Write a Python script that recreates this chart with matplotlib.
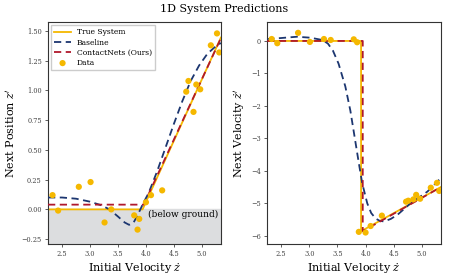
#!/usr/bin/env python3
# 1D system predictions: next position / next velocity vs initial velocity

import matplotlib
matplotlib.use("Agg")
import matplotlib.pyplot as plt

# data points (shared initial velocities)
data_v = [2.33, 2.43, 2.80, 3.01, 3.26, 3.38, 3.79, 3.85, 3.88, 4.00,
          4.09, 4.29, 4.72, 4.76, 4.85, 4.90, 4.97, 5.16, 5.27, 5.31]
data_pos = [0.12, -0.01, 0.19, 0.23, -0.11, 0.00, -0.05, -0.17, -0.08, 0.06,
            0.12, 0.16, 0.99, 1.08, 0.82, 1.05, 1.01, 1.38, 1.48, 1.32]
data_vel = [0.06, -0.07, 0.25, -0.03, 0.06, 0.03, 0.05, -0.04, -5.88, -5.90,
            -5.70, -5.38, -4.95, -4.92, -4.88, -4.74, -4.86, -4.52, -4.37, -4.62]

# true system (piecewise linear)
true_pos_x = [2.25, 3.94, 5.34]
true_pos_y = [0.0, 0.0, 1.445]
true_vel_x = [2.25, 3.92, 3.92, 5.34]
true_vel_y = [0.0, 0.0, -5.86, -4.50]

# ContactNets prediction
cn_pos_x = [2.25, 3.96, 5.34]
cn_pos_y = [0.04, 0.04, 1.44]
cn_vel_x = [2.25, 3.95, 3.95, 5.34]
cn_vel_y = [0.0, 0.0, -5.86, -4.50]

# baseline prediction
base_pos_x = [2.25, 2.50, 2.75, 3.00, 3.20, 3.35, 3.50, 3.62, 3.70, 3.78,
              3.86, 3.95, 4.05, 4.20, 4.35, 4.50, 4.65, 4.80, 4.95, 5.10, 5.22, 5.34]
base_pos_y = [0.10, 0.10, 0.09, 0.065, 0.035, 0.0, -0.06, -0.11, -0.13, -0.11,
              -0.04, 0.05, 0.14, 0.32, 0.52, 0.72, 0.91, 1.08, 1.21, 1.31, 1.36, 1.40]
base_vel_x = [2.25, 2.50, 2.78, 3.02, 3.23, 3.33, 3.42, 3.52, 3.64, 3.73, 3.80,
              3.88, 3.94, 4.03, 4.10, 4.18, 4.25, 4.33, 4.45, 4.57, 4.80, 5.10, 5.34]
base_vel_y = [0.06, 0.09, 0.13, 0.10, 0.03, -0.08, -0.30, -0.70, -1.40, -2.15, -2.90,
              -3.76, -4.38, -5.00, -5.30, -5.47, -5.54, -5.56, -5.48, -5.35, -5.00, -4.64, -4.22]

GOLD = "#f5b800"
NAVY = "#1c3670"
RED = "#b0182c"
GRAY = "#dcdddf"

plt.rcParams["font.family"] = "DejaVu Serif"
plt.rcParams["mathtext.fontset"] = "dejavuserif"
plt.rcParams["axes.edgecolor"] = "#333333"
plt.rcParams["axes.linewidth"] = 0.8
plt.rcParams["xtick.color"] = "#444444"
plt.rcParams["ytick.color"] = "#444444"

fig = plt.figure(figsize=(4.49, 2.80), dpi=100)
ax1 = fig.add_axes([0.107, 0.129, 0.385, 0.792])
ax2 = fig.add_axes([0.595, 0.129, 0.387, 0.792])

xlim = (2.25, 5.34)
lw = 1.3

# ---- left: position
ax1.axhspan(-0.29, 0.0, color=GRAY, zorder=0)
ax1.plot(true_pos_x, true_pos_y, color=GOLD, lw=lw, label="True System", zorder=2)
ax1.plot(base_pos_x, base_pos_y, color=NAVY, lw=lw, ls=(0, (4, 2.5)), label="Baseline", zorder=3)
ax1.plot(cn_pos_x, cn_pos_y, color=RED, lw=lw, ls=(0, (4, 2.5)), label="ContactNets (Ours)", zorder=3)
ax1.scatter(data_v, data_pos, s=20, color=GOLD, edgecolors="none", label="Data", zorder=4)
ax1.text(4.04, -0.04, "(below ground)", fontsize=6.5, va="center", ha="left")
ax1.set_xlim(*xlim)
ax1.set_ylim(-0.29, 1.575)
ax1.set_xticks([2.5, 3.0, 3.5, 4.0, 4.5, 5.0])
ax1.set_yticks([-0.25, 0.0, 0.25, 0.5, 0.75, 1.0, 1.25, 1.5])
ax1.set_xlabel(r"Initial Velocity $\dot{z}$", fontsize=8, labelpad=2)
ax1.set_ylabel(r"Next Position $z'$", fontsize=8, labelpad=3)
ax1.tick_params(labelsize=4.8, length=2.5, width=0.6, pad=2)
ax1.legend(loc="upper left", fontsize=5.5, frameon=True, fancybox=False,
           edgecolor="#cccccc", framealpha=1, borderpad=0.4, labelspacing=0.3,
           handlelength=2.2, borderaxespad=0.4)

# ---- right: velocity
ax2.plot(true_vel_x, true_vel_y, color=GOLD, lw=lw, zorder=2)
ax2.plot(base_vel_x, base_vel_y, color=NAVY, lw=lw, ls=(0, (4, 2.5)), zorder=3)
ax2.plot(cn_vel_x, cn_vel_y, color=RED, lw=lw, ls=(0, (4, 2.5)), zorder=3)
ax2.scatter(data_v, data_vel, s=20, color=GOLD, edgecolors="none", zorder=4)
ax2.set_xlim(*xlim)
ax2.set_ylim(-6.25, 0.58)
ax2.set_xticks([2.5, 3.0, 3.5, 4.0, 4.5, 5.0])
ax2.set_yticks([-6, -5, -4, -3, -2, -1, 0])
ax2.set_xlabel(r"Initial Velocity $\dot{z}$", fontsize=8, labelpad=2)
ax2.set_ylabel(r"Next Velocity $\dot{z}'$", fontsize=8, labelpad=3)
ax2.tick_params(labelsize=4.8, length=2.5, width=0.6, pad=2)

fig.suptitle("1D System Predictions", fontsize=8, y=0.985)

fig.savefig("out.png", dpi=100)
